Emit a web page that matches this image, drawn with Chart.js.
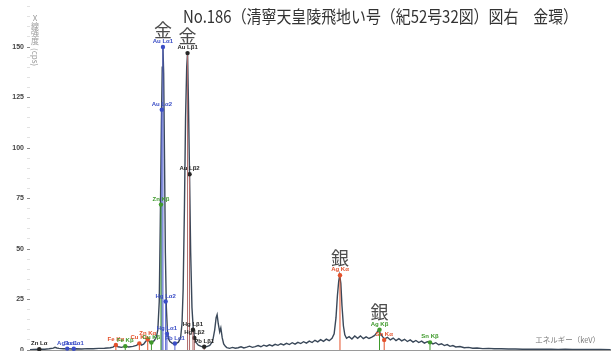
<!DOCTYPE html>
<html>
<head>
<meta charset="utf-8">
<script src="https://cdn.jsdelivr.net/npm/chart.js@4.4.1/dist/chart.umd.min.js"></script>
<style>
  html, body { margin: 0; padding: 0; background: #fff; overflow: hidden; }
  #wrap { width: 611px; height: 351px; }
</style>
</head>
<body>
<div id="wrap"><canvas id="c" width="611" height="351"></canvas></div>
<script>
// ---- texts ----
const chartTitle = 'No.186（清寧天皇陵飛地い号（紀52号32図）図右　金環）';
const yAxisTitleChars = ['X', '線', '強', '度'];
const yAxisUnit = '(cps)';
const xAxisTitle = 'エネルギー（keV）';
const yTickValues = [0, 25, 50, 75, 100, 125, 150];

// ---- measured spectrum: energy (keV) and intensity (cps) ----
const energyKeV = [
  0.36, 0.6, 1.0, 1.4, 1.7, 2.0, 2.12, 2.25, 2.4, 2.7, 3.0, 3.3, 3.6, 4.0, 4.4, 4.8, 5.2, 5.6,
  6.0, 6.2, 6.4, 6.55, 6.8, 7.06, 7.3, 7.6, 7.85, 8.05, 8.2, 8.35, 8.49, 8.64, 8.8, 8.95, 9.1, 9.25, 9.35,
  9.45, 9.52, 9.6, 9.66, 9.71, 9.76, 9.82, 9.88, 9.95, 10.02, 10.1,
  10.2, 10.35, 10.5, 10.65, 10.8, 10.95, 11.05,
  11.13, 11.22, 11.3, 11.38, 11.44, 11.5, 11.58, 11.66, 11.75, 11.85, 11.95,
  12.05, 12.2, 12.4, 12.6, 12.8, 13.0, 13.2, 13.35, 13.45, 13.52, 13.6, 13.7, 13.78, 13.88, 13.98, 14.1,
  14.2, 14.4, 14.6, 14.8, 15.0, 15.2, 15.4, 15.6, 15.8, 16.0, 16.2, 16.4, 16.6, 16.8, 17.0, 17.2, 17.4,
  17.6, 17.8, 18.0, 18.2, 18.4, 18.6, 18.8, 19.0, 19.2, 19.4, 19.6, 19.8, 20.0, 20.2, 20.4, 20.6, 20.8,
  21.0, 21.2, 21.4, 21.6,
  21.75, 21.88, 21.98, 22.07, 22.14, 22.22, 22.3, 22.4, 22.5, 22.62,
  22.8, 23.0, 23.2, 23.4, 23.6, 23.8, 24.0, 24.2, 24.4, 24.6, 24.75, 24.88, 25.0, 25.15, 25.3, 25.5,
  25.7, 25.9, 26.1, 26.3, 26.5, 26.7, 26.9, 27.1, 27.3, 27.5, 27.7, 27.9, 28.1, 28.3, 28.5, 28.7, 28.9,
  29.1, 29.3, 29.5, 29.7, 29.9, 30.1, 30.3, 30.6, 30.9, 31.2, 31.5, 31.8, 32.2, 32.6, 33.0, 33.5, 34.0,
  34.5, 35.0, 35.5, 36.0, 36.5, 37.0, 37.5, 38.0, 38.5, 39.0, 39.5, 40.0, 40.5, 41.2
];
const counts = [
  0.2, 0.3, 0.4, 0.4, 0.6, 0.9, 1.3, 1.0, 0.8, 0.6, 0.7, 0.5, 0.6, 0.5, 0.7, 0.6, 0.8, 0.9,
  1.1, 1.4, 2.5, 1.6, 1.3, 1.9, 1.5, 1.8, 2.3, 3.3, 2.4, 2.9, 4.2, 5.3, 3.7, 4.0, 4.6, 6.5, 10,
  24, 62, 112, 140, 150, 137, 95, 48, 21, 10, 5.5,
  4.2, 3.4, 2.9, 3.3, 3.9, 6, 13,
  30, 70, 115, 140, 147, 124, 87, 48, 21, 9.5, 5.5,
  3.6, 2.4, 1.8, 1.5, 1.7, 2.3, 4.2, 10, 16, 17.5, 13, 9, 11, 6, 3, 1.8,
  1.2, 0.8, 1.3, 0.9, 1.1, 1.6, 1.0, 1.4, 1.9, 1.3, 1.7, 2.2, 1.6, 2.4, 1.9, 2.6, 2.0,
  2.8, 2.3, 3.1, 2.5, 3.3, 2.7, 3.6, 2.9, 3.8, 3.2, 4.1, 3.4, 4.4, 3.7, 4.8, 4.0, 5.1,
  4.3, 5.4, 4.6, 5.8,
  8, 16, 27, 34, 37, 33, 22, 12, 7.5, 5.8,
  6.6, 5.4, 6.9, 5.8, 7.0, 5.6, 6.5, 5.7, 6.4, 7.2, 8.6, 10, 8.2, 6.6, 5.5, 6.3,
  5.0, 5.9, 4.7, 5.6, 4.5, 5.3, 4.2, 5.0, 3.9, 4.7, 3.7, 4.4, 3.4, 4.1, 3.8, 3.0, 3.6,
  2.6, 3.1, 2.2, 2.7, 1.8, 2.2, 1.5, 1.7, 1.1, 1.3, 0.9, 1.0, 0.7, 0.8, 0.6, 0.6, 0.5,
  0.5, 0.4, 0.45, 0.4, 0.35, 0.4, 0.3, 0.35, 0.3, 0.3, 0.25, 0.3, 0.25, 0.2
];

// ---- identified X-ray lines ----
const lineNames    = ['Zn Lα', 'Ag Lα1', 'Sn Lα1', 'Fe Kα', 'Fe Kβ', 'Cu Kα', 'Zn Kα', 'Cu Kβ', 'Zn Kβ',
                      'Au Lα2', 'Au Lα1', 'Hg Lα2', 'Hg Lα1', 'Pb Lα1', 'Au Lβ1', 'Au Lβ2', 'Hg Lβ1',
                      'Hg Lβ2', 'Pb Lβ1', 'Ag Kα', 'Ag Kβ', 'Sn Kα', 'Sn Kβ'];
const lineFamilies = ['Lb', 'La', 'La', 'Ka', 'Kb', 'Ka', 'Ka', 'Kb', 'Kb',
                      'La', 'La', 'La', 'La', 'La', 'Lb', 'Lb', 'Lb',
                      'Lb', 'Lb', 'Ka', 'Kb', 'Ka', 'Kb'];
const lineEnergies = [1.01, 2.98, 3.44, 6.40, 7.06, 8.05, 8.64, 8.90, 9.57,
                      9.63, 9.71, 9.90, 9.99, 10.55, 11.44, 11.58, 11.82,
                      11.92, 12.61, 22.16, 24.94, 25.27, 28.49];
const lineCounts   = [0.4, 0.7, 0.6, 2.5, 1.9, 3.3, 5.3, 3.7, 72,
                      119, 150, 24, 8, 3.2, 147, 87, 10,
                      6, 1.6, 37, 10, 5.0, 3.8];

// element names written over the main peaks
const elementMarks     = ['金', '金', '銀', '銀'];
const elementMarkLines = ['Au Lα1', 'Au Lβ1', 'Ag Kα', 'Ag Kβ'];

// ---- styling ----
const familyColor = { Ka: '#e4512b', Kb: '#3f9a2c', La: '#3b4ec6', Lb: '#262626' };
const stemColor   = { Ka: '#e4512b', Kb: '#3f9a2c', La: '#5463d0', Lb: '#b06a6a' };

const spectrum = energyKeV.map((e, i) => ({ x: e, y: counts[i] }));

const stemSets = lineNames.map((name, i) => ({
  type: 'line',
  label: name,
  data: [{ x: lineEnergies[i], y: 0 }, { x: lineEnergies[i], y: lineCounts[i] }],
  borderColor: stemColor[lineFamilies[i]],
  borderWidth: 1,
  pointRadius: [0, 2.2],
  pointBackgroundColor: familyColor[lineFamilies[i]],
  pointBorderWidth: 0,
  clip: false,
  order: 0
}));

// line names, element marks and axis titles
const annotations = {
  id: 'annotations',
  afterDatasetsDraw(chart) {
    const { ctx, scales: { x, y } } = chart;
    ctx.save();
    ctx.textAlign = 'center';
    ctx.textBaseline = 'alphabetic';
    ctx.font = 'bold 6px "Liberation Sans", Arial, sans-serif';
    lineNames.forEach((name, i) => {
      const px = x.getPixelForValue(lineEnergies[i]);
      const py = y.getPixelForValue(lineCounts[i]);
      ctx.fillStyle = familyColor[lineFamilies[i]];
      ctx.fillText(name, px, py - 4);
    });
    ctx.font = '18px "Noto Sans CJK JP", sans-serif';
    ctx.fillStyle = '#4d4d4d';
    elementMarks.forEach((mark, k) => {
      const i = lineNames.indexOf(elementMarkLines[k]);
      const px = x.getPixelForValue(lineEnergies[i]);
      const py = y.getPixelForValue(lineCounts[i]);
      ctx.fillText(mark, px, py - 10.5);
    });

    // chart title, held to its printed width
    ctx.textAlign = 'left';
    ctx.fillStyle = '#333';
    ctx.font = '16px "Noto Sans CJK JP", sans-serif';
    const tw = ctx.measureText(chartTitle).width;
    const sx = Math.min(1, 395 / tw);
    ctx.save();
    ctx.translate(183, 23);
    ctx.scale(sx, 1.08);
    ctx.fillText(chartTitle, 0, 0);
    ctx.restore();

    // vertical y-axis title
    ctx.textAlign = 'center';
    ctx.fillStyle = '#9a9a9a';
    ctx.font = '8px "Noto Sans CJK JP", sans-serif';
    yAxisTitleChars.forEach((ch, k) => ctx.fillText(ch, 35, 21 + k * 7.6));
    ctx.save();
    ctx.translate(35, 48);
    ctx.rotate(Math.PI / 2);
    ctx.textAlign = 'left';
    ctx.textBaseline = 'middle';
    ctx.fillText(yAxisUnit, 0, 0);
    ctx.restore();

    // x-axis title
    ctx.textAlign = 'right';
    ctx.fillStyle = '#7a7a7a';
    ctx.font = '7.5px "Noto Sans CJK JP", sans-serif';
    ctx.fillText(xAxisTitle, 600, 343);
    ctx.restore();
  }
};

new Chart(document.getElementById('c'), {
  type: 'line',
  data: {
    datasets: [
      {
        label: 'spectrum',
        data: spectrum,
        borderColor: '#3a4859',
        borderWidth: 1.4,
        pointRadius: 0,
        tension: 0,
        order: 1
      },
      ...stemSets
    ]
  },
  options: {
    responsive: false,
    animation: false,
    layout: { padding: 0, autoPadding: false },
    plugins: { legend: { display: false }, tooltip: { enabled: false }, title: { display: false } },
    scales: {
      x: {
        type: 'linear',
        min: 0.36,
        max: 41.22,
        ticks: { display: false },
        grid: { display: false },
        border: { display: true, color: '#9a9a9a', width: 1 },
        afterFit(s) { s.height = 1; s.paddingLeft = 0; s.paddingRight = 0; }
      },
      y: {
        type: 'linear',
        min: 0,
        max: 173.3,
        border: { display: false },
        grid: {
          drawOnChartArea: false,
          drawTicks: true,
          tickLength: 3,
          color: (c) => (c.tick && yTickValues.includes(c.tick.value)) ? '#8a8a8a' : '#e2e2e2'
        },
        ticks: {
          stepSize: 5,
          autoSkip: false,
          includeBounds: false,
          padding: 3,
          color: '#444',
          font: { size: 7, weight: 'bold', family: '"Liberation Sans", Arial, sans-serif' },
          callback: (v) => yTickValues.includes(v) ? String(v) : ''
        },
        afterFit(s) { s.width = 30; s.paddingTop = 0; s.paddingBottom = 0; }
      }
    }
  },
  plugins: [annotations]
});
</script>
</body>
</html>
